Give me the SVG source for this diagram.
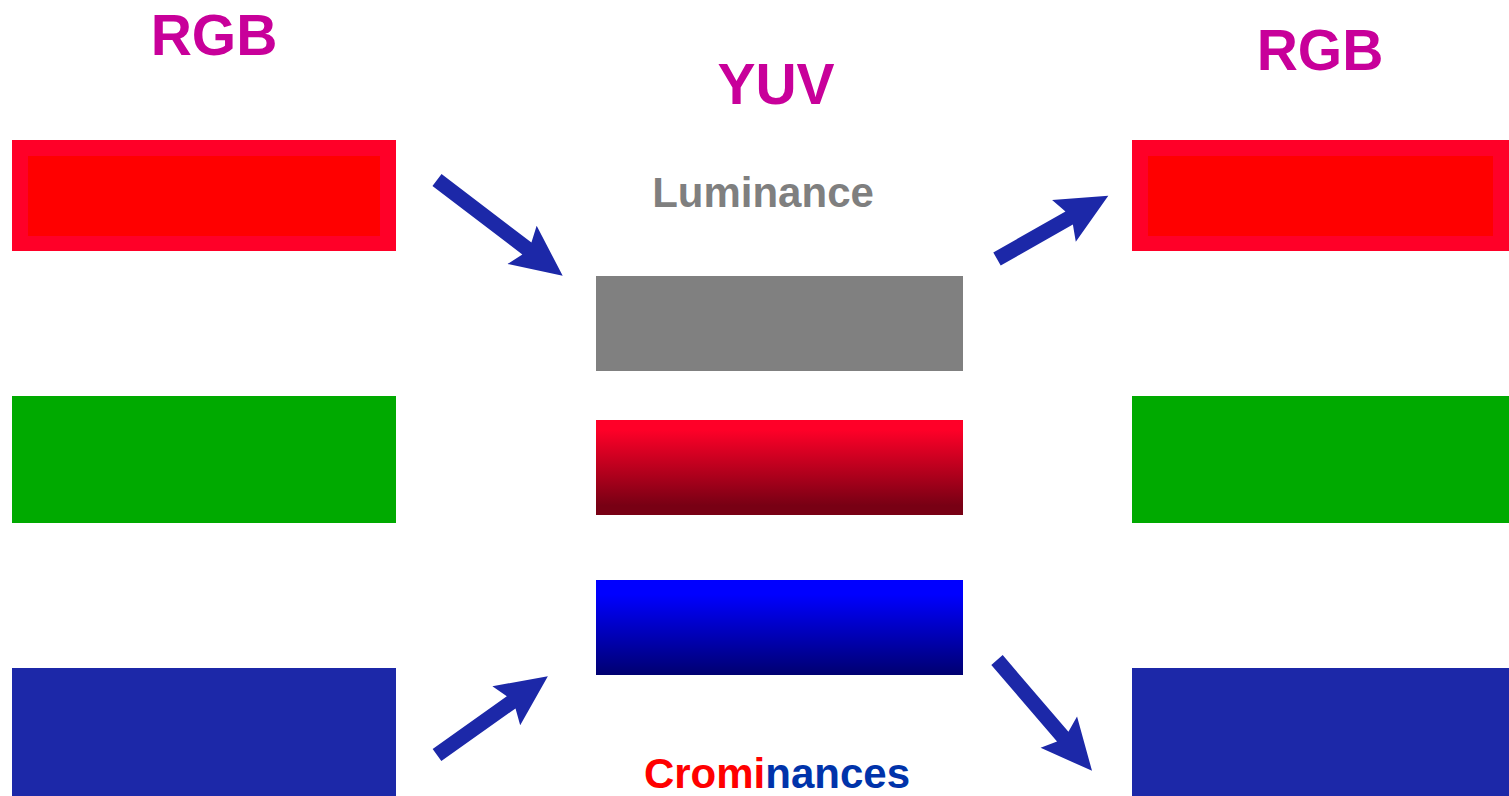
<svg xmlns="http://www.w3.org/2000/svg" width="1509" height="796" viewBox="0 0 1509 796">
<defs>
<linearGradient id="gr" x1="0" y1="0" x2="0" y2="1"><stop offset="0.1" stop-color="#FF0028"/><stop offset="0.9" stop-color="#780014"/></linearGradient>
<linearGradient id="gb" x1="0" y1="0" x2="0" y2="1"><stop offset="0.15" stop-color="#0000FF"/><stop offset="1" stop-color="#000070"/></linearGradient>
</defs>
<style>
.t{font-family:"Liberation Sans",Arial,sans-serif;font-weight:bold;text-anchor:middle}
.h{font-size:57px;fill:#C8009A}
.arr{fill:#1C28A8}
</style>
<rect width="1509" height="796" fill="#fff"/>
<text class="t h" x="214" y="55">RGB</text>
<text class="t h" x="776" y="104">YUV</text>
<text class="t h" x="1320" y="70">RGB</text>
<g id="in-r"><rect x="12" y="140" width="384" height="111" fill="#FF0028"/><rect x="28" y="156" width="352" height="80" fill="#FF0000"/></g>
<g id="in-g"><rect x="12" y="396" width="384" height="127" fill="#00AA00"/></g>
<g id="in-b"><rect x="12" y="668" width="384" height="128" fill="#1C28A8"/></g>
<g id="out-r"><rect x="1132" y="140" width="377" height="111" fill="#FF0028"/><rect x="1148" y="156" width="345" height="80" fill="#FF0000"/></g>
<g id="out-g"><rect x="1132" y="396" width="377" height="127" fill="#00AA00"/></g>
<g id="out-b"><rect x="1132" y="668" width="377" height="128" fill="#1C28A8"/></g>
<g id="lum"><text class="t" x="763" y="207" font-size="42" fill="#7F7F7F">Luminance</text><rect x="596" y="276" width="367" height="95" fill="#808080"/></g>
<g id="cr"><rect x="596" y="420" width="367" height="95" fill="url(#gr)"/></g>
<g id="cb"><rect x="596" y="580" width="367" height="95" fill="url(#gb)"/></g>
<g id="crom"><text class="t" x="777" y="788" font-size="42"><tspan fill="#FF0000">Cromi</tspan><tspan fill="#0033AA">nances</tspan></text></g>
<g id="connectors">
<polygon class="arr" transform="translate(437,180) rotate(37.3)" points="0,-7.5 113,-7.5 107,-24 158,0 107,24 113,7.5 0,7.5"/>
<polygon class="arr" transform="translate(437,755) rotate(-35.4)" points="0,-7.5 91,-7.5 85,-24 136,0 85,24 91,7.5 0,7.5"/>
<polygon class="arr" transform="translate(997,259) rotate(-29.6)" points="0,-7.5 83,-7.5 77,-24 128,0 77,24 83,7.5 0,7.5"/>
<polygon class="arr" transform="translate(997,660) rotate(49.4)" points="0,-7.5 101,-7.5 95,-24 146,0 95,24 101,7.5 0,7.5"/>
</g>
</svg>
